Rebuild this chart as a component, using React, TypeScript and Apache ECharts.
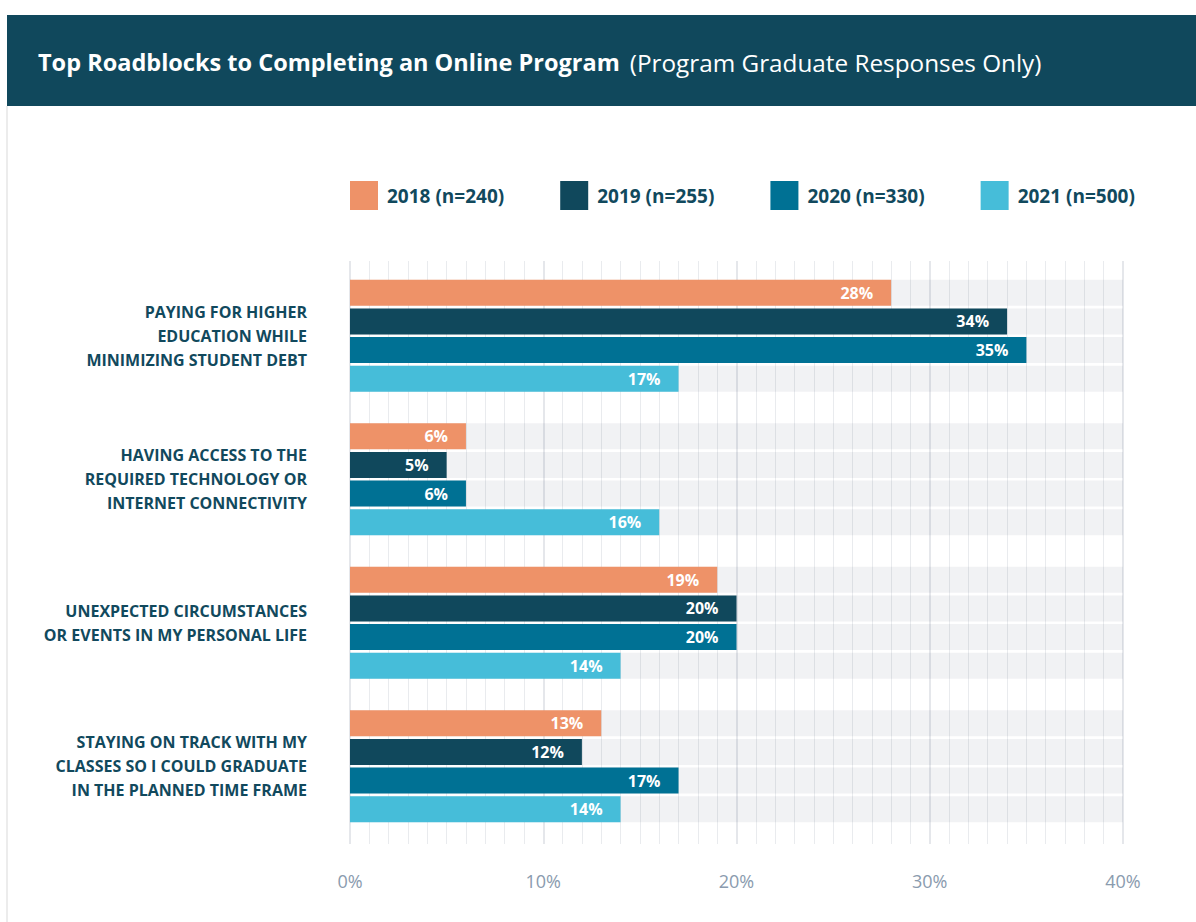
import React, { useEffect, useRef } from "react";
import * as echarts from "echarts";

const categories = [
  "PAYING FOR HIGHER\nEDUCATION WHILE\nMINIMIZING STUDENT DEBT",
  "HAVING ACCESS TO THE\nREQUIRED TECHNOLOGY OR\nINTERNET CONNECTIVITY",
  "UNEXPECTED CIRCUMSTANCES\nOR EVENTS IN MY PERSONAL LIFE",
  "STAYING ON TRACK WITH MY\nCLASSES SO I COULD GRADUATE\nIN THE PLANNED TIME FRAME",
];
const seriesNames = ["2018 (n=240)", "2019 (n=255)", "2020 (n=330)", "2021 (n=500)"];
const values2018 = [28, 6, 19, 13];
const values2019 = [34, 5, 20, 12];
const values2020 = [35, 6, 20, 17];
const values2021 = [17, 16, 14, 14];
const seriesValues = [values2018, values2019, values2020, values2021];
const seriesColors = ["#ee9268", "#10485c", "#007194", "#46bdd9"];
const xMin = 0;
const xMax = 40;
const xInterval = 10;

const FONT = "'Open Sans', 'Noto Sans', sans-serif";
const DARK = "#11495d";

export default function App() {
  const ref = useRef<HTMLDivElement>(null);

  useEffect(() => {
    if (!ref.current) return;
    const chart = echarts.init(ref.current, undefined, { renderer: "svg" });
    const option: any = {
      animation: false,
      backgroundColor: "#ffffff",
      textStyle: { fontFamily: FONT },
      graphic: [
        {
          type: "rect",
          shape: { x: 7, y: 15, width: 1189, height: 91 },
          style: { fill: "#10485c" },
          silent: true,
        },
        {
          type: "rect",
          shape: { x: 6, y: 106, width: 2, height: 816 },
          style: { fill: "#ececec" },
          silent: true,
        },
        {
          type: "text",
          x: 38,
          y: 62,
          style: {
            text: "{b|Top Roadblocks to Completing an Online Program}{n|(Program Graduate Responses Only)}",
            verticalAlign: "middle",
            rich: {
              b: { fontFamily: FONT, fontWeight: "bold", fontSize: 23.5, fill: "#ffffff" },
              n: { fontFamily: FONT, fontWeight: "normal", fontSize: 24.3, fill: "#ffffff", padding: [0, 0, 0, 10] },
            },
          },
          silent: true,
        },
      ],
      legend: {
        left: 350,
        top: 181,
        padding: 0,
        itemWidth: 28,
        itemHeight: 29,
        itemGap: 56,
        icon: "rect",
        data: seriesNames,
        textStyle: {
          fontFamily: FONT,
          fontWeight: "bold",
          fontSize: 19,
          color: DARK,
          padding: [0, 0, 0, 4],
        },
        selectedMode: false,
      },
      grid: [
        { left: 350, right: 73, top: 264, bottom: 84 },
        { left: 350, right: 73, top: 261, bottom: 78 },
      ],
      xAxis: [
        {
          type: "value",
          gridIndex: 0,
          min: xMin,
          max: xMax,
          interval: xInterval,
          axisLine: { show: false },
          axisTick: { show: false },
          splitLine: { show: false },
          axisLabel: {
            formatter: "{value}%",
            margin: 34,
            fontFamily: FONT,
            fontSize: 18,
            color: "#8a9bae",
          },
        },
        {
          type: "value",
          gridIndex: 1,
          min: xMin,
          max: xMax,
          interval: xInterval,
          axisLine: { show: false },
          axisTick: { show: false },
          axisLabel: { show: false },
          splitLine: { show: true, lineStyle: { color: "#dcdfe4", width: 1.5 } },
          minorTick: { show: false, splitNumber: 10 },
          minorSplitLine: { show: true, lineStyle: { color: "#e9ebee", width: 1 } },
        },
      ],
      yAxis: [
        {
          type: "category",
          gridIndex: 0,
          data: categories,
          inverse: true,
          axisLine: { show: false },
          axisTick: { show: false },
          splitLine: { show: false },
          axisLabel: {
            margin: 43,
            fontFamily: FONT,
            fontWeight: "bold",
            fontSize: 16,
            lineHeight: 24,
            color: DARK,
            align: "right",
          },
        },
        {
          type: "value",
          gridIndex: 1,
          show: false,
          min: 0,
          max: 1,
        },
      ],
      series: seriesNames.map((name, i) => ({
        name,
        type: "bar",
        xAxisIndex: 0,
        yAxisIndex: 0,
        data: seriesValues[i],
        barWidth: 26,
        barGap: "10%",
        itemStyle: { color: seriesColors[i] },
        showBackground: true,
        backgroundStyle: { color: "rgba(0,20,60,0.055)" },
        label: {
          show: true,
          position: "insideRight",
          distance: 18,
          formatter: "{c}%",
          color: "#ffffff",
          fontFamily: FONT,
          fontWeight: "bold",
          fontSize: 16,
        },
      })),
    };
    chart.setOption(option);
    return () => {
      chart.dispose();
    };
  }, []);

  return (
    <div
      ref={ref}
      style={{ position: "fixed", left: 0, top: 0, width: 1196, height: 922, background: "#fff" }}
    />
  );
}
